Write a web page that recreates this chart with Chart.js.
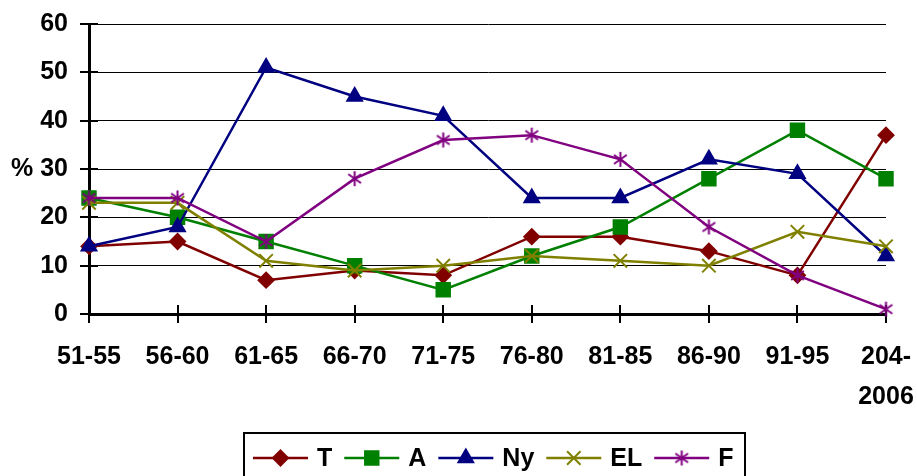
<!DOCTYPE html>
<html>
<head>
<meta charset="utf-8">
<script src="https://cdn.jsdelivr.net/npm/chart.js@4.4.1/dist/chart.umd.min.js"></script>
<style>
  body { margin: 0; background: #fff; }
  #wrap { width: 917px; height: 476px; }
</style>
</head>
<body>
<div id="wrap"><canvas id="chart" width="917" height="476"></canvas></div>
<script>
const categories = ["51-55", "56-60", "61-65", "66-70", "71-75", "76-80", "81-85", "86-90", "91-95", ["204-", "2006"]];
const seriesT = [14, 15, 7, 9, 8, 16, 16, 13, 8, 37];
const seriesA = [24, 20, 15, 10, 5, 12, 18, 28, 38, 28];
const seriesNy = [14, 18, 51, 45, 41, 24, 24, 32, 29, 12];
const seriesEL = [23, 23, 11, 9, 10, 12, 11, 10, 17, 14];
const seriesF = [24, 24, 15, 28, 36, 37, 32, 18, 8, 1];
const yTicks = [0, 10, 20, 30, 40, 50, 60];

const FONT = '"Liberation Sans", Arial, sans-serif';

// asterisk marker like Excel's (vertical line + X)
function asterisk(color, size) {
  const c = document.createElement("canvas");
  c.width = size; c.height = size;
  const g = c.getContext("2d");
  const m = size / 2, r = size / 2 - 1, d = r * 0.85;
  g.strokeStyle = color; g.lineWidth = 2;
  g.beginPath();
  g.moveTo(m, m - r); g.lineTo(m, m + r);
  g.moveTo(m - d, m - d * 0.7); g.lineTo(m + d, m + d * 0.7);
  g.moveTo(m - d, m + d * 0.7); g.lineTo(m + d, m - d * 0.7);
  g.stroke();
  return c;
}

function series(label, data, color, style, radius, order) {
  return {
    label, data, order,
    borderColor: color,
    borderWidth: 2.5,
    pointStyle: style,
    pointRadius: radius,
    pointBackgroundColor: color,
    pointBorderColor: color,
    pointBorderWidth: 2,
    tension: 0,
    clip: false,
  };
}

// tick marks crossing the axes
const crossTicks = {
  id: "crossTicks",
  beforeDatasetsDraw(chart) {
    const { ctx, chartArea: a, scales: { x, y } } = chart;
    ctx.save();
    ctx.strokeStyle = "#000";
    ctx.lineWidth = 2;
    ctx.beginPath();
    y.ticks.forEach((t, i) => {
      const py = Math.round(y.getPixelForTick(i));
      ctx.moveTo(a.left - 9, py); ctx.lineTo(a.left + 9, py);
    });
    x.ticks.forEach((t, i) => {
      const px = Math.round(x.getPixelForTick(i));
      ctx.moveTo(px, a.bottom - 9); ctx.lineTo(px, a.bottom + 9);
    });
    ctx.stroke();
    ctx.restore();
  },
};

// boxed legend with line samples
const legendBox = {
  id: "legendBox",
  afterDraw(chart) {
    const ctx = chart.ctx;
    const left = 244, right = 745, top = 433, cy = 458;
    ctx.save();
    ctx.lineWidth = 2;
    ctx.strokeStyle = "#000";
    ctx.strokeRect(left, top, right - left, 80);
    ctx.font = "bold 25px " + FONT;
    ctx.textBaseline = "middle";
    let x = left + 9;
    chart.data.datasets.forEach((ds) => {
      ctx.strokeStyle = ds.borderColor;
      ctx.lineWidth = 2.5;
      ctx.beginPath(); ctx.moveTo(x, cy); ctx.lineTo(x + 55, cy); ctx.stroke();
      ctx.fillStyle = ds.pointBackgroundColor;
      ctx.strokeStyle = ds.pointBorderColor;
      ctx.lineWidth = ds.pointBorderWidth;
      Chart.helpers.drawPoint(ctx, {
        pointStyle: ds.pointStyle, radius: ds.pointRadius,
        borderWidth: ds.pointBorderWidth, rotation: 0,
      }, x + 27.5, cy);
      x += 64;
      ctx.fillStyle = "#000";
      ctx.fillText(ds.label, x, cy + 1);
      x += ctx.measureText(ds.label).width + 12;
    });
    ctx.restore();
  },
};

new Chart(document.getElementById("chart"), {
  type: "line",
  data: {
    labels: categories,
    datasets: [
      series("T", seriesT, "#800000", "rectRot", 7.5, 5),
      series("A", seriesA, "#008000", "rect", 9.5, 4),
      series("Ny", seriesNy, "#000080", "triangle", 8.5, 3),
      series("EL", seriesEL, "#808000", "crossRot", 9.5, 2),
      series("F", seriesF, "#800080", asterisk("#800080", 17), 9, 1),
    ],
  },
  options: {
    responsive: false,
    animation: false,
    layout: { padding: { top: 24, right: 31, left: 0, bottom: 0 } },
    plugins: { legend: { display: false }, tooltip: { enabled: false } },
    scales: {
      x: {
        offset: false,
        border: { color: "#000", width: 3 },
        grid: { drawOnChartArea: false, tickLength: 9, tickColor: "rgba(0,0,0,0)" },
        ticks: {
          color: "#000", padding: 14, maxRotation: 0, autoSkip: false,
          font: { family: FONT, size: 25, weight: "bold", lineHeight: 1.6 },
        },
        afterFit(s) { s.height = 162; s.paddingLeft = 0; s.paddingRight = 0; },
      },
      y: {
        min: yTicks[0],
        max: yTicks[yTicks.length - 1],
        border: { color: "#000", width: 3 },
        grid: { color: "#000", lineWidth: 1, tickLength: 9, tickColor: "rgba(0,0,0,0)" },
        afterBuildTicks(s) { s.ticks = yTicks.map((v) => ({ value: v })); },
        ticks: {
          color: "#000", padding: 12,
          font: { family: FONT, size: 25, weight: "bold" },
          callback: (v) => (v === 30 ? "% 30" : v),
        },
        afterFit(s) { s.width = 89; s.paddingTop = 0; s.paddingBottom = 0; },
      },
    },
  },
  plugins: [crossTicks, legendBox],
});
</script>
</body>
</html>
